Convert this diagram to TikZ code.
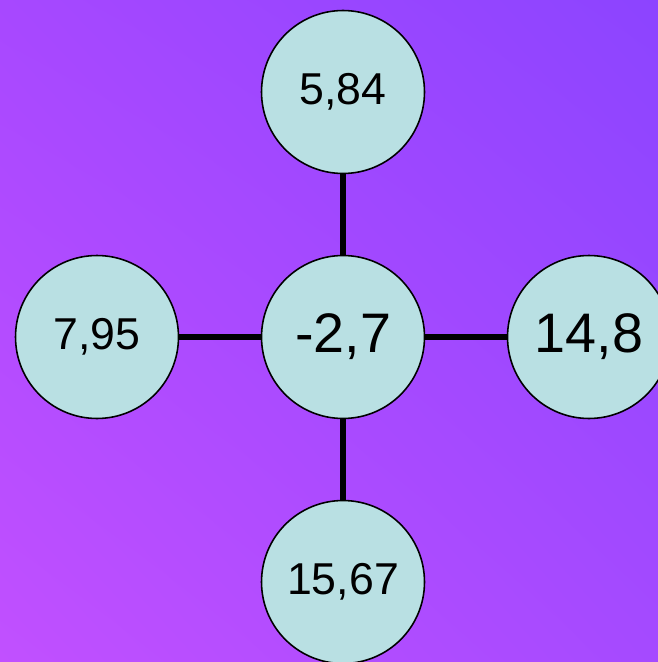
\documentclass[tikz,border=0pt]{standalone}
\usepackage{fontspec}
\setmainfont{Liberation Sans}
\usetikzlibrary{positioning,shadings}
\definecolor{bgtl}{HTML}{A748FF}
\definecolor{bgtr}{HTML}{8C44FF}
\definecolor{bgbl}{HTML}{C150FF}
\definecolor{bgbr}{HTML}{A54AFF}
\definecolor{ball}{HTML}{B9E0E3}

\begin{document}
\begin{tikzpicture}[x=0.02cm, y=-0.02cm,
		bubble/.style={circle, draw=black, line width=0.9pt, fill=ball, minimum size=3.26cm, inner sep=0pt, font=\fontsize{25.4}{28}\selectfont},
		bigbubble/.style={bubble, font=\fontsize{31.7}{34}\selectfont},
		stick/.style={line width=3.4pt, color=black}]
			%%%%% START %%%%%
			
			\useasboundingbox (0, 0) rectangle (658, 662);
			\shade[upper left=bgtl, upper right=bgtr, lower left=bgbl, lower right=bgbr] (0, 0) rectangle (658, 662);
			
			\node[bigbubble] (mid) at (343, 337) {-2,7};
			\node[bubble] (top) at (343, 92) {5,84};
			\node[bubble] (left) at (97, 337) {7,95};
			\node[bigbubble] (right) at (589, 337) {14,8};
			\node[bubble] (bottom) at (343, 582) {15,67};
			
			\draw[stick] (top) -- (mid);
			\draw[stick] (left) -- (mid);
			\draw[stick] (mid) -- (right);
			\draw[stick] (mid) -- (bottom);
			
			%%%%% END %%%%%
		\end{tikzpicture}
\end{document}
